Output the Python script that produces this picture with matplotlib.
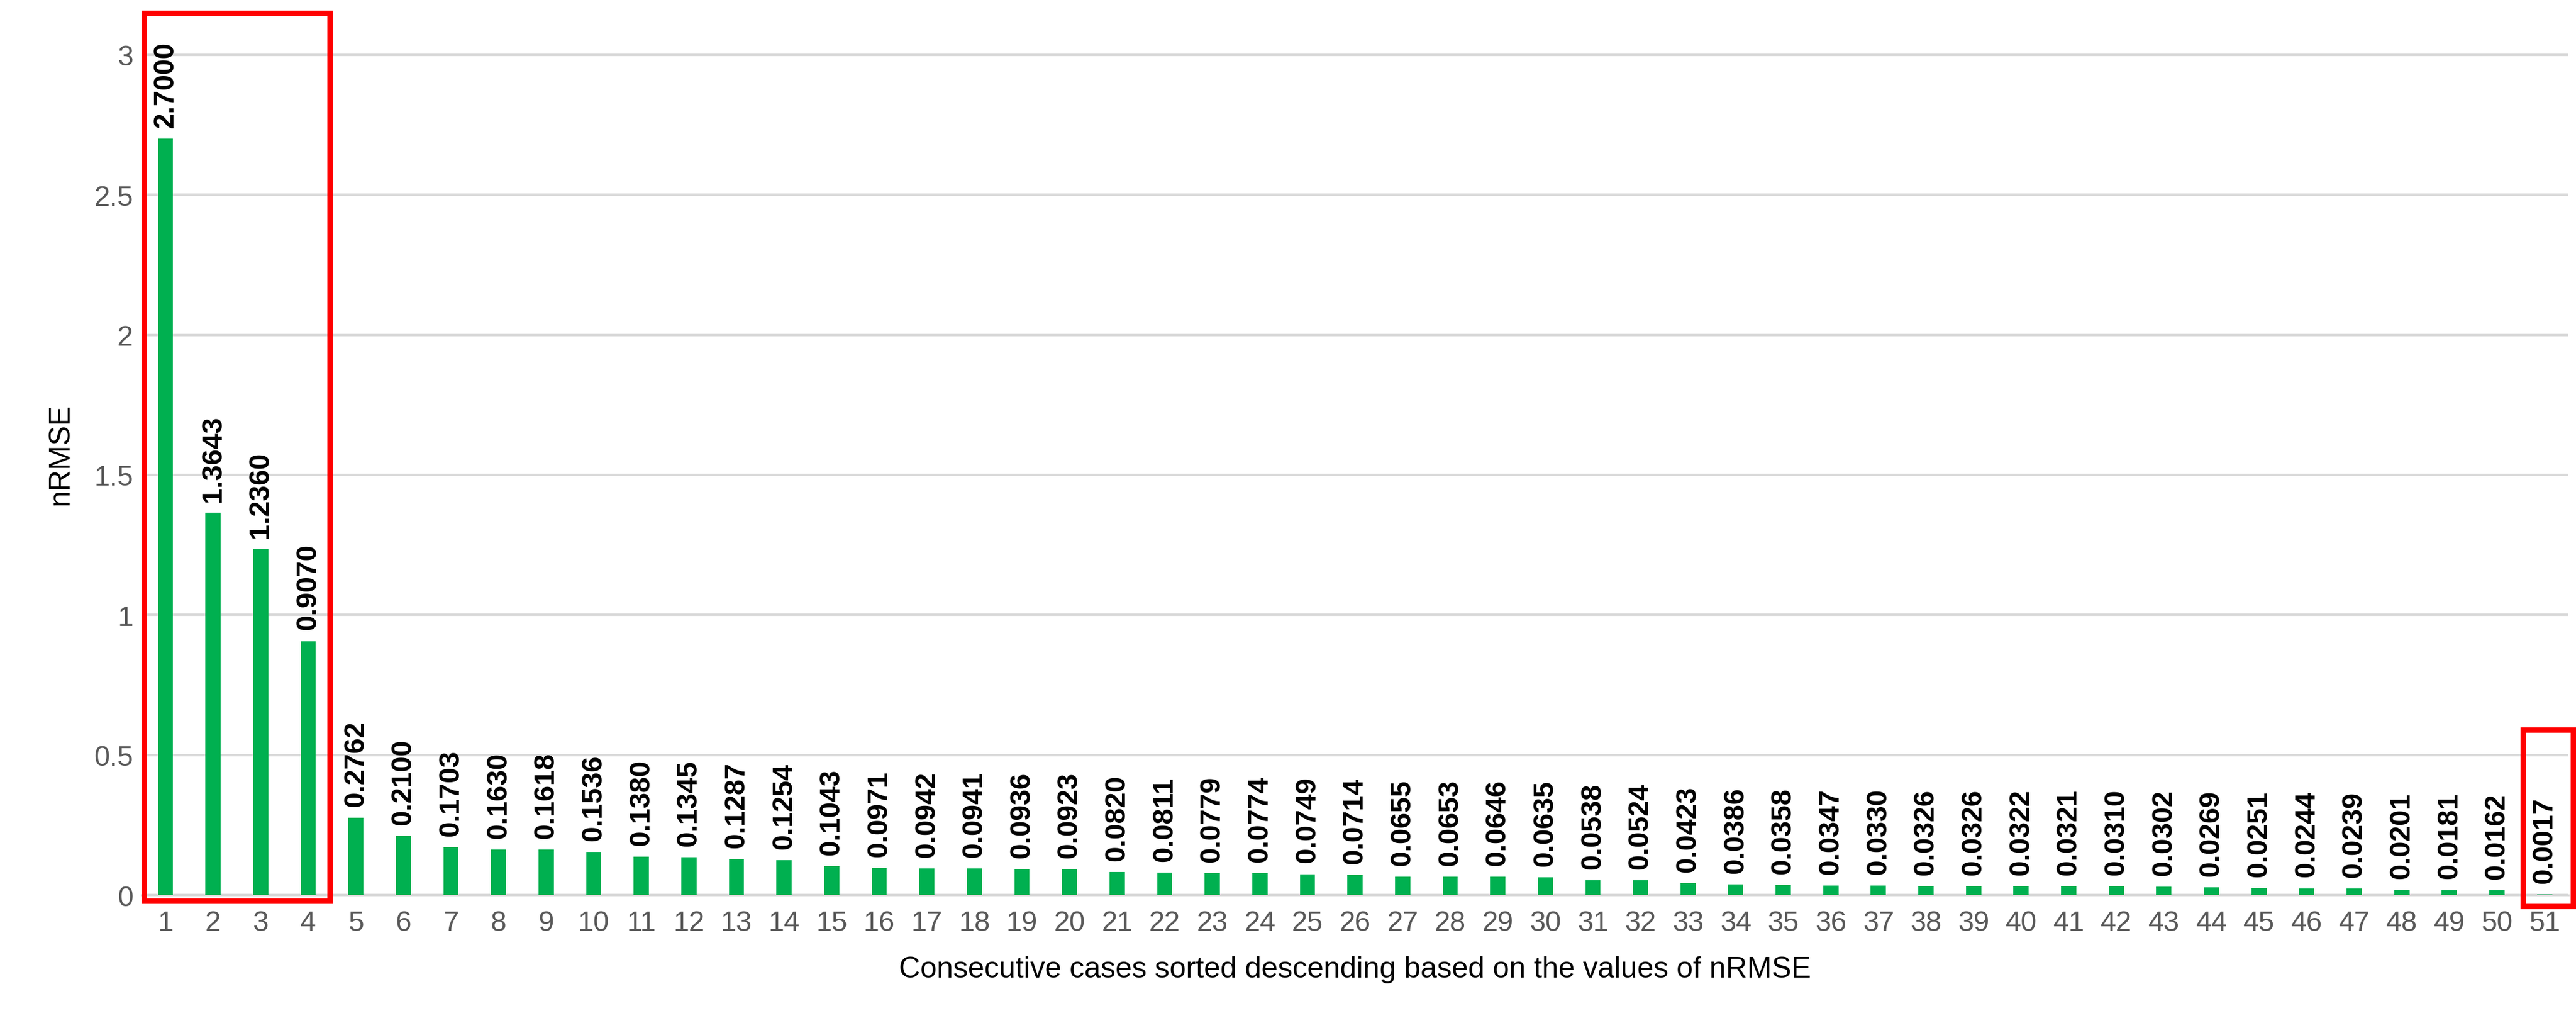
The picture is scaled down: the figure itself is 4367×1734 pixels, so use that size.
import matplotlib.pyplot as plt
from matplotlib.patches import Rectangle

cases = list(range(1, 52))
nrmse = [2.7000, 1.3643, 1.2360, 0.9070, 0.2762, 0.2100, 0.1703, 0.1630, 0.1618, 0.1536,
         0.1380, 0.1345, 0.1287, 0.1254, 0.1043, 0.0971, 0.0942, 0.0941, 0.0936, 0.0923,
         0.0820, 0.0811, 0.0779, 0.0774, 0.0749, 0.0714, 0.0655, 0.0653, 0.0646, 0.0635,
         0.0538, 0.0524, 0.0423, 0.0386, 0.0358, 0.0347, 0.0330, 0.0326, 0.0326, 0.0322,
         0.0321, 0.0310, 0.0302, 0.0269, 0.0251, 0.0244, 0.0239, 0.0201, 0.0181, 0.0162,
         0.0017]
yticks = [0, 0.5, 1, 1.5, 2, 2.5, 3]
ytick_labels = ["0", "0.5", "1", "1.5", "2", "2.5", "3"]

plt.rcParams["font.family"] = ["Liberation Sans", "DejaVu Sans"]
fig = plt.figure(figsize=(14.557, 5.783), dpi=300)
ax = fig.add_axes([0.055, 0.125, 0.942, 0.862])

ax.bar(cases, nrmse, width=0.32, color="#00B050", zorder=3)
for x, v in zip(cases, nrmse):
    ax.text(x, v + 0.04, f"{v:.4f}", rotation=90, ha="center", va="bottom",
            fontsize=11.5, fontweight="bold", zorder=4)

ax.set_xlim(0.5, 51.5)
ax.set_ylim(0, 3.15)
ax.set_xticks(cases)
ax.set_yticks(yticks)
ax.set_yticklabels(ytick_labels)
ax.tick_params(axis="both", length=0, labelsize=11.5, labelcolor="#595959")
ax.tick_params(axis="x", pad=6)
ax.grid(axis="y", color="#D9D9D9", linewidth=1, zorder=0)
for s in ["top", "right", "left"]:
    ax.spines[s].set_visible(False)
ax.spines["bottom"].set_color("#D9D9D9")
ax.set_xlabel("Consecutive cases sorted descending based on the values of nRMSE",
              fontsize=12, labelpad=8)
ax.set_ylabel("nRMSE", fontsize=12, labelpad=8)

ax.add_patch(Rectangle((0.55, -0.02), 3.9, 3.17, fill=False, edgecolor="#FF0000",
                       linewidth=2.2, clip_on=False, zorder=5))
ax.add_patch(Rectangle((50.55, -0.04), 1.05, 0.63, fill=False, edgecolor="#FF0000",
                       linewidth=2.2, clip_on=False, zorder=5))

fig.savefig("out.png", dpi=300)
